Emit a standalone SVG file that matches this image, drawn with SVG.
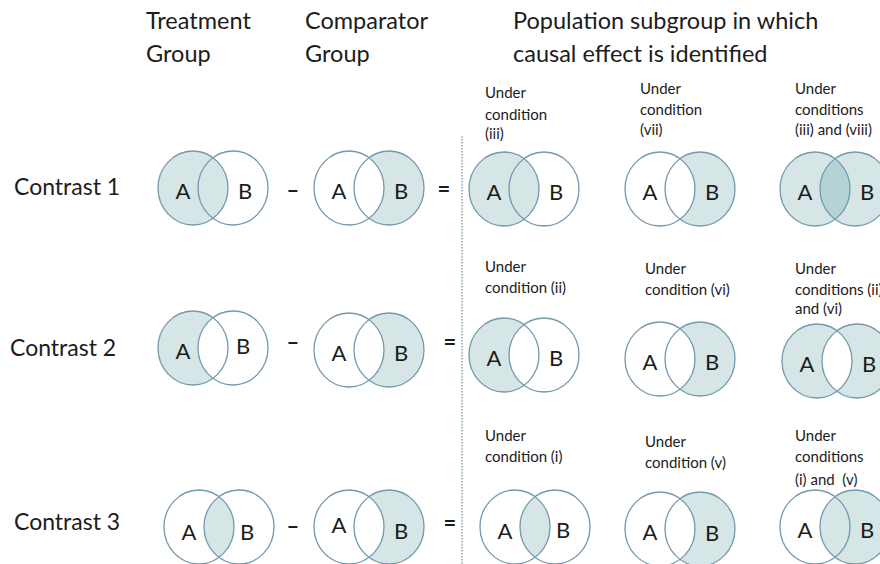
<svg xmlns="http://www.w3.org/2000/svg" xmlns:xlink="http://www.w3.org/1999/xlink" width="880" height="564" viewBox="0 0 880 564">
<style>
  .f{fill:#d6e6e7;}
  .d{fill:#b5d3d5;}
  .w{fill:#ffffff;}
  .s{fill:none;stroke:#7499ad;stroke-width:1.3;}
  text{font-family:Lato,"Open Sans","Liberation Sans",sans-serif;fill:#1c1c1c;}
  .l{font-size:22px;text-anchor:middle;}
  .h{font-size:23.5px;}
  .c{font-size:23px;}
  .sm{font-size:15px;white-space:pre;}
  .op{font-size:22px;font-weight:bold;text-anchor:middle;}
</style>
<defs>
  <ellipse id="ea" cx="-20" cy="0" rx="35" ry="37"/>
  <ellipse id="eb" cx="20" cy="0" rx="35" ry="37"/>
  <clipPath id="clipB"><ellipse cx="20" cy="0" rx="35" ry="37"/></clipPath>
</defs>
<rect width="880" height="564" fill="#ffffff"/>

<g id="headers">
  <text class="h" x="146" y="29">Treatment</text>
  <text class="h" x="146" y="62">Group</text>
  <text class="h" x="305" y="29">Comparator</text>
  <text class="h" x="305" y="62">Group</text>
  <text class="h" x="513" y="29">Population subgroup in which</text>
  <text class="h" x="513" y="62">causal effect is identified</text>
</g>

<g id="row-labels">
  <text class="c" x="14" y="195">Contrast 1</text>
  <text class="c" x="10" y="356">Contrast 2</text>
  <text class="c" x="14" y="530">Contrast 3</text>
</g>

<g id="operators">
  <text class="op" x="293" y="198">–</text>
  <text class="op" x="444" y="197">=</text>
  <text class="op" x="293" y="350">–</text>
  <text class="op" x="450" y="350">=</text>
  <text class="op" x="293" y="534">–</text>
  <text class="op" x="450" y="531">=</text>
</g>

<g id="connectors">
  <line x1="462" y1="136" x2="462" y2="564" stroke="#7499ad" stroke-width="1.3" stroke-dasharray="1.5,1.5"/>
</g>

<g id="condition-labels">
  <text class="sm" x="485" y="98">Under</text>
  <text class="sm" x="485" y="120">condition</text>
  <text class="sm" x="485" y="139">(iii)</text>
  <text class="sm" x="640" y="94">Under</text>
  <text class="sm" x="640" y="115">condition</text>
  <text class="sm" x="640" y="135">(vii)</text>
  <text class="sm" x="795" y="94">Under</text>
  <text class="sm" x="795" y="115">conditions</text>
  <text class="sm" x="795" y="135">(iii) and (viii)</text>

  <text class="sm" x="485" y="272">Under</text>
  <text class="sm" x="485" y="293">condition (ii)</text>
  <text class="sm" x="645" y="274">Under</text>
  <text class="sm" x="645" y="295">condition (vi)</text>
  <text class="sm" x="795" y="274">Under</text>
  <text class="sm" x="795" y="295">conditions (ii)</text>
  <text class="sm" x="795" y="314">and (vi)</text>

  <text class="sm" x="485" y="441">Under</text>
  <text class="sm" x="485" y="462">condition (i)</text>
  <text class="sm" x="645" y="447">Under</text>
  <text class="sm" x="645" y="468">condition (v)</text>
  <text class="sm" x="795" y="441">Under</text>
  <text class="sm" x="795" y="462">conditions</text>
  <text class="sm" x="795" y="485">(i) and  (v)</text>
</g>

<!-- Row 1 -->
<g id="c1-treatment" transform="translate(213,188)">
  <use href="#ea" class="f"/>
  <use href="#ea" class="s"/><use href="#eb" class="s"/>
  <text class="l" x="-30" y="11">A</text><text class="l" x="32" y="11">B</text>
</g>
<g id="c1-comparator" transform="translate(369,188)">
  <use href="#eb" class="f"/><use href="#ea" class="w"/>
  <use href="#ea" class="s"/><use href="#eb" class="s"/>
  <text class="l" x="-30" y="11">A</text><text class="l" x="32" y="11">B</text>
</g>
<g id="c1-r1" transform="translate(524,189)">
  <use href="#ea" class="f"/>
  <use href="#ea" class="s"/><use href="#eb" class="s"/>
  <text class="l" x="-30" y="11">A</text><text class="l" x="32" y="11">B</text>
</g>
<g id="c1-r2" transform="translate(680,189)">
  <use href="#eb" class="f"/><use href="#ea" class="w"/>
  <use href="#ea" class="s"/><use href="#eb" class="s"/>
  <text class="l" x="-30" y="11">A</text><text class="l" x="32" y="11">B</text>
</g>
<g id="c1-r3" transform="translate(835,189)">
  <use href="#ea" class="f"/><use href="#eb" class="f"/>
  <use href="#ea" class="d" clip-path="url(#clipB)"/>
  <use href="#ea" class="s"/><use href="#eb" class="s"/>
  <text class="l" x="-30" y="11">A</text><text class="l" x="32" y="11">B</text>
</g>

<!-- Row 2 -->
<g id="c2-treatment" transform="translate(213,348)">
  <use href="#ea" class="f"/><use href="#eb" class="w"/>
  <use href="#ea" class="s"/><use href="#eb" class="s"/>
  <text class="l" x="-30" y="11">A</text><text class="l" x="30" y="6">B</text>
</g>
<g id="c2-comparator" transform="translate(369,350)">
  <use href="#eb" class="f"/><use href="#ea" class="w"/>
  <use href="#ea" class="s"/><use href="#eb" class="s"/>
  <text class="l" x="-30" y="11">A</text><text class="l" x="32" y="11">B</text>
</g>
<g id="c2-r1" transform="translate(524,355)">
  <use href="#ea" class="f"/><use href="#eb" class="w"/>
  <use href="#ea" class="s"/><use href="#eb" class="s"/>
  <text class="l" x="-30" y="11">A</text><text class="l" x="32" y="11">B</text>
</g>
<g id="c2-r2" transform="translate(680,359)">
  <use href="#eb" class="f"/><use href="#ea" class="w"/>
  <use href="#ea" class="s"/><use href="#eb" class="s"/>
  <text class="l" x="-30" y="11">A</text><text class="l" x="32" y="11">B</text>
</g>
<g id="c2-r3" transform="translate(837,361)">
  <use href="#ea" class="f"/><use href="#eb" class="f"/>
  <use href="#ea" class="w" clip-path="url(#clipB)"/>
  <use href="#ea" class="s"/><use href="#eb" class="s"/>
  <text class="l" x="-30" y="11">A</text><text class="l" x="32" y="11">B</text>
</g>

<!-- Row 3 -->
<g id="c3-treatment" transform="translate(219,527)">
  <use href="#ea" class="f" clip-path="url(#clipB)"/>
  <use href="#ea" class="s"/><use href="#eb" class="s"/>
  <text class="l" x="-30" y="13">A</text><text class="l" x="28" y="13">B</text>
</g>
<g id="c3-comparator" transform="translate(369,527)">
  <use href="#eb" class="f"/><use href="#ea" class="w"/>
  <use href="#ea" class="s"/><use href="#eb" class="s"/>
  <text class="l" x="-30" y="6">A</text><text class="l" x="32" y="12">B</text>
</g>
<g id="c3-r1" transform="translate(535,527)">
  <use href="#ea" class="f" clip-path="url(#clipB)"/>
  <use href="#ea" class="s"/><use href="#eb" class="s"/>
  <text class="l" x="-30" y="12">A</text><text class="l" x="28" y="11">B</text>
</g>
<g id="c3-r2" transform="translate(680,529)">
  <use href="#eb" class="f"/><use href="#ea" class="w"/>
  <use href="#ea" class="s"/><use href="#eb" class="s"/>
  <text class="l" x="-30" y="11">A</text><text class="l" x="32" y="12">B</text>
</g>
<g id="c3-r3" transform="translate(835,527)">
  <use href="#eb" class="f"/>
  <use href="#ea" class="s"/><use href="#eb" class="s"/>
  <text class="l" x="-30" y="11">A</text><text class="l" x="32" y="11">B</text>
</g>
</svg>
